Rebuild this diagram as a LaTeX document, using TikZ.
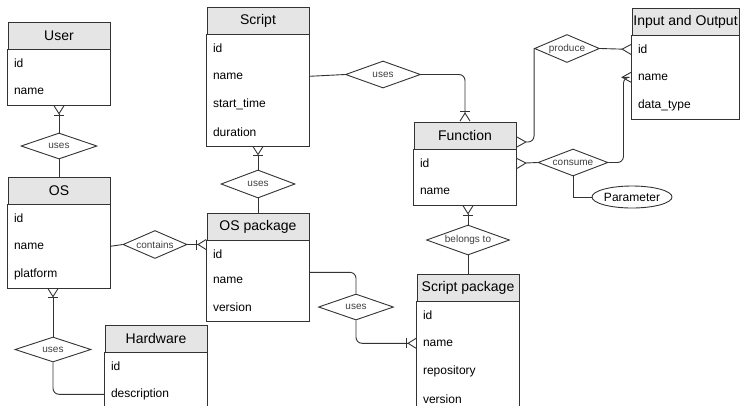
\documentclass[tikz,border=0pt]{standalone}
\usepackage{fontspec}
\setmainfont{Liberation Sans}
\usetikzlibrary{arrows.meta,positioning,shapes.geometric}

\begin{document}
\begin{tikzpicture}[
    x=1pt, y=-1pt,
    line width=0.9pt,
    entity/.style={
        draw=black!80,
        fill=black!10,
        minimum width=102pt,
        minimum height=27pt,
        inner xsep=1pt,
        font=\fontsize{14}{16}\selectfont
    },
    row/.style={
        minimum width=102pt,
        text width=90pt,
        minimum height=27pt,
        inner xsep=6pt, inner ysep=0pt,
        align=left,
        font=\fontsize{12}{14}\selectfont
    },
    rel/.style={
        diamond, draw=black!80, fill=white,
        aspect=2.4, inner sep=0pt,
        font=\fontsize{10}{12}\selectfont, text=black!75
    },
    attr/.style={ellipse, draw=black!80, inner sep=0pt,
        minimum width=80pt, minimum height=22pt,
        font=\fontsize{12}{14}\selectfont},
    link/.style={draw=black!80},
    many/.style={link, -{Straight Barb[reversed, length=9pt, width=10pt]}},
    onemany/.style={link, -{Bar[width=10pt] Straight Barb[reversed, length=8pt, width=10pt]}}
]
\clip (0,0) rectangle (741,405);

% entities
\node[entity] (user) at (59,35.5) {User};
\node[row, below=0pt of user] (user-id) {id};
\node[row, below=0pt of user-id] (user-name) {name};
\draw[link] (user.south west) rectangle (user-name.south east);

\node[entity] (script) at (258,20.5) {Script};
\node[row, below=0pt of script] (script-id) {id};
\node[row, below=0pt of script-id] (script-name) {name};
\node[row, below=0pt of script-name] (script-start) {start\_time};
\node[row, below=0pt of script-start] (script-dur) {duration};
\draw[link] (script.south west) rectangle (script-dur.south east);

\node[entity] (os) at (59,190.5) {OS};
\node[row, below=0pt of os] (os-id) {id};
\node[row, below=0pt of os-id] (os-name) {name};
\node[row, below=0pt of os-name] (os-plat) {platform};
\draw[link] (os.south west) rectangle (os-plat.south east);

\node[entity] (ospkg) at (258,226.5) {OS package};
\node[row, minimum height=26pt, below=0pt of ospkg] (ospkg-id) {id};
\node[row, minimum height=26pt, below=0pt of ospkg-id] (ospkg-name) {name};
\node[row, minimum height=26pt, below=0pt of ospkg-name] (ospkg-ver) {version};
\draw[link] (ospkg.south west) rectangle (ospkg-ver.south east);

\node[entity] (fn) at (465,135.5) {Function};
\node[row, below=0pt of fn] (fn-id) {id};
\node[row, below=0pt of fn-id] (fn-name) {name};
\draw[link] (fn.south west) rectangle (fn-name.south east);

\node[entity, minimum width=107pt] (io) at (685.5,21.5) {Input and Output};
\node[row, minimum width=107pt, text width=95pt, below=0pt of io] (io-id) {id};
\node[row, minimum width=107pt, text width=95pt, below=0pt of io-id] (io-name) {name};
\node[row, minimum width=107pt, text width=95pt, below=0pt of io-name] (io-type) {data\_type};
\draw[link] (io.south west) rectangle (io-type.south east);

\node[entity] (spkg) at (468,287.5) {Script package};
\node[row, below=0pt of spkg] (spkg-id) {id};
\node[row, below=0pt of spkg-id] (spkg-name) {name};
\node[row, below=0pt of spkg-name] (spkg-repo) {repository};
\node[row, below=0pt of spkg-repo] (spkg-ver) {version};
\draw[link] (spkg.south west) rectangle (spkg-ver.south east);

\node[entity] (hw) at (156,338.5) {Hardware};
\node[row, below=0pt of hw] (hw-id) {id};
\node[row, below=0pt of hw-id] (hw-desc) {description};
\draw[link] (hw.south west) rectangle (hw-desc.south east);

% relationships
\node[rel, minimum width=76pt, minimum height=26pt] (d1) at (59,146) {uses};
\node[rel, minimum width=75pt, minimum height=27pt] (d2) at (383,74.5) {uses};
\node[rel, minimum width=74pt, minimum height=28pt] (d3) at (258,184) {uses};
\node[rel, minimum width=64pt, minimum height=28pt] (d4) at (155,244.5) {contains};
\node[rel, minimum width=76pt, minimum height=25pt] (d5) at (53,349.5) {uses};
\node[rel, minimum width=75pt, minimum height=26pt] (d6) at (356,307) {uses};
\node[rel, minimum width=83pt, minimum height=30pt] (d7) at (468,240) {belongs to};
\node[rel, minimum width=65pt, minimum height=28pt] (d8) at (567,48.5) {produce};
\node[rel, minimum width=70pt, minimum height=27pt] (d9) at (573,162.5) {consume};
\node[attr] (param) at (632,197) {Parameter};

% connectors
\draw[onemany] (d1.north) -- (user-name.south);
\draw[link] (d1.south) -- (os.north);

\draw[link] (script-name.east) -- (d2.west);
\draw[onemany, rounded corners=6pt] (d2.east) -| (fn.north);

\draw[onemany] (d3.north) -- (script-dur.south);
\draw[link] (d3.south) -- (ospkg.north);

\draw[link] (os-name.east) -- (d4.west);
\draw[onemany] (d4.east) -- (d4.east -| ospkg-id.west);

\draw[onemany] (d5.north) -- (d5.north |- os-plat.south);
\draw[link, rounded corners=6pt] (d5.south) |- (hw-desc.west);

\draw[link, rounded corners=6pt] ([yshift=-5pt]ospkg-name.north east) -| (d6.north);
\draw[onemany, rounded corners=6pt] (d6.south) |- (spkg-name.west);

\draw[onemany] (d7.north) -- (d7.north |- fn-name.south);
\draw[link] (d7.south) -- (spkg.north);

\draw[many] (d8.east) -- (io-id.west);
\draw[many, rounded corners=6pt] (d8.west) |- ([yshift=-6.5pt]fn.east);

\draw[many] (d9.west) -- (fn-id.east);
\draw[many, rounded corners=6pt] (d9.east) -- ++(15,0) |- (io-name.west);
\draw[link] (d9.south) |- (param.west);

\end{tikzpicture}
\end{document}
